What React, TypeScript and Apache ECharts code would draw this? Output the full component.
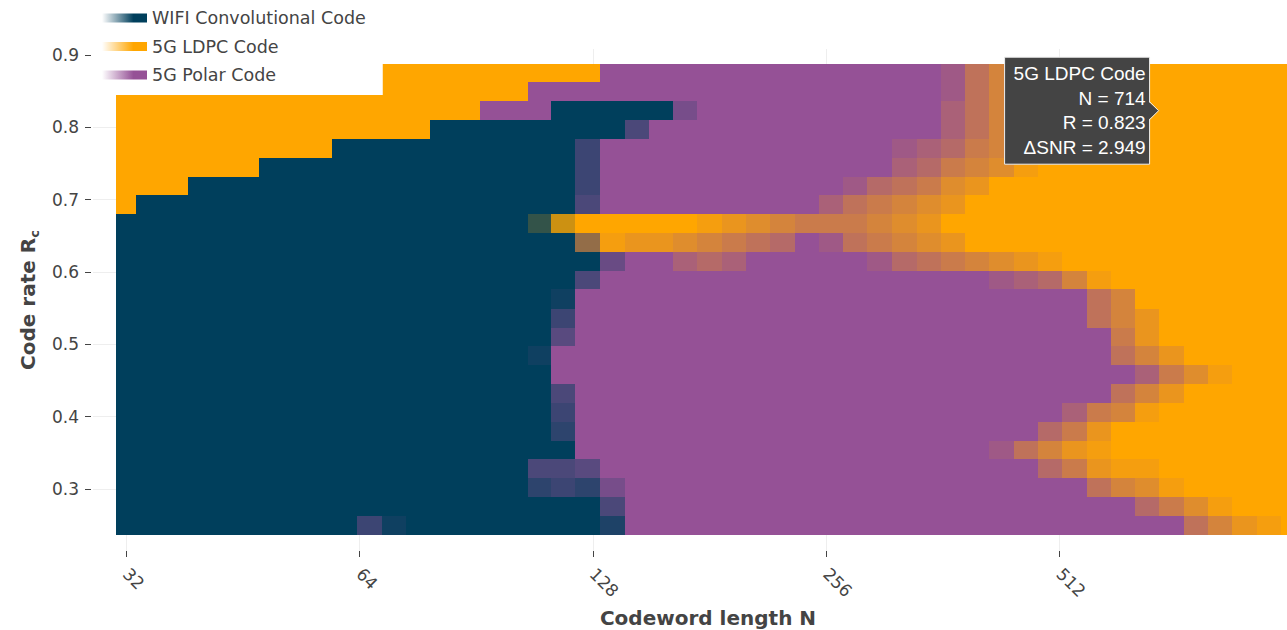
import React, { useEffect, useRef } from 'react';
import * as echarts from 'echarts';

// ---------------- data ----------------
const codeNames = ['WIFI Convolutional Code', '5G LDPC Code', '5G Polar Code'];
const codeColors = ['#003f5c', '#ffa600', '#955196'];

// codeword lengths N (columns)
const codewordLengths = [
  32, 34, 37, 40, 43, 46, 49, 53, 57, 61, 66, 71, 76, 82, 88, 95, 102, 109, 117, 126,
  136, 146, 157, 168, 181, 195, 209, 225, 242, 260, 279, 300, 323, 347, 373, 401, 431, 463, 498, 535,
  575, 618, 664, 714, 767, 825, 887, 953, 1024,
];

// code rates R (rows, bottom to top)
const codeRates = [
  0.25, 0.276, 0.302, 0.328, 0.354, 0.38, 0.406, 0.432, 0.458, 0.484, 0.51, 0.536, 0.563,
  0.589, 0.615, 0.641, 0.667, 0.693, 0.719, 0.745, 0.771, 0.797, 0.823, 0.849, 0.875,
];

const xTickValues = [32, 64, 128, 256, 512];
const yTickValues = [0.3, 0.4, 0.5, 0.6, 0.7, 0.8, 0.9];

// share of each cell won by a code, in tenths (T = 10), rows from R = 0.875 (top) down to R = 0.25
// columns follow codewordLengths; Polar share = 10 - WIFI - LDPC
const wifiShareRows = [
  '0000000000 0000000000 0000000000 0000000000 000000000',
  '0000000000 0000000000 0000000000 0000000000 000000000',
  '0000000000 00000000TT TTT2000000 0000000000 000000000',
  '0000000000 000TTTTTTT T500000000 0000000000 000000000',
  '000000000T TTTTTTTTT6 0000000000 0000000000 000000000',
  '000000TTTT TTTTTTTTT6 0000000000 0000000000 000000000',
  '000TTTTTTT TTTTTTTTT6 0000000000 0000000000 000000000',
  '0TTTTTTTTT TTTTTTTTT5 0000000000 0000000000 000000000',
  'TTTTTTTTTT TTTTTTT820 0000000000 0000000000 000000000',
  'TTTTTTTTTT TTTTTTTTT3 0000000000 0000000000 000000000',
  'TTTTTTTTTT TTTTTTTTTT 3000000000 0000000000 000000000',
  'TTTTTTTTTT TTTTTTTTT5 0000000000 0000000000 000000000',
  'TTTTTTTTTT TTTTTTTT90 0000000000 0000000000 000000000',
  'TTTTTTTTTT TTTTTTTT60 0000000000 0000000000 000000000',
  'TTTTTTTTTT TTTTTTTT40 0000000000 0000000000 000000000',
  'TTTTTTTTTT TTTTTTT900 0000000000 0000000000 000000000',
  'TTTTTTTTTT TTTTTTTT00 0000000000 0000000000 000000000',
  'TTTTTTTTTT TTTTTTTT50 0000000000 0000000000 000000000',
  'TTTTTTTTTT TTTTTTTT60 0000000000 0000000000 000000000',
  'TTTTTTTTTT TTTTTTTT70 0000000000 0000000000 000000000',
  'TTTTTTTTTT TTTTTTTTT0 0000000000 0000000000 000000000',
  'TTTTTTTTTT TTTTTTT554 0000000000 0000000000 000000000',
  'TTTTTTTTTT TTTTTTT767 2000000000 0000000000 000000000',
  'TTTTTTTTTT TTTTTTTTTT 5000000000 0000000000 000000000',
  'TTTTTTTTTT 69TTTTTTTT 8000000000 0000000000 000000000',
];

const ldpcShareRows = [
  'TTTTTTTTTT TTTTTTTTTT 0000000000 000014689T TTTTTTTTT',
  'TTTTTTTTTT TTTTTTT000 0000000000 000014689T TTTTTTTTT',
  'TTTTTTTTTT TTTTT00000 0000000000 000024689T TTTTTTTTT',
  'TTTTTTTTTT TTT0000000 0000000000 000024689T TTTTTTTTT',
  'TTTTTTTTT0 0000000000 0000000000 001235689T TTTTTTTTT',
  'TTTTTT0000 0000000000 0000000000 00235679TT TTTTTTTTT',
  'TTT0000000 0000000000 0000000000 134578TTTT TTTTTTTTT',
  'T000000000 0000000000 0000000002 45678TTTTT TTTTTTTTT',
  '0000000000 000000028T TTTT987655 5678TTTTTT TTTTTTTTT',
  '0000000000 0000000004 9887654301 45678TTTTT TTTTTTTTT',
  '0000000000 0000000000 0002320000 013456789T TTTTTTTTT',
  '0000000000 0000000000 0000000000 0000001236 9TTTTTTTT',
  '0000000000 0000000000 0000000000 0000000000 46TTTTTTT',
  '0000000000 0000000000 0000000000 0000000000 468TTTTTT',
  '0000000000 0000000000 0000000000 0000000000 058TTTTTT',
  '0000000000 0000000000 0000000000 0000000000 0468TTTTT',
  '0000000000 0000000000 0000000000 0000000000 002579TTT',
  '0000000000 0000000000 0000000000 0000000000 0468TTTTT',
  '0000000000 0000000000 0000000000 0000000002 569TTTTTT',
  '0000000000 0000000000 0000000000 0000000035 8TTTTTTTT',
  '0000000000 0000000000 0000000000 0000001468 9TTTTTTTT',
  '0000000000 0000000000 0000000000 0000000035 899TTTTTT',
  '0000000000 0000000000 0000000000 0000000000 4679TTTTT',
  '0000000000 0000000000 0000000000 0000000000 003579TTT',
  '0000000000 0000000000 0000000000 0000000000 00004689T',
];

// hovered point shown in the tooltip
const hoverPoint = { code: '5G LDPC Code', n: 714, r: 0.823, dSnr: 2.949 };

// ---------------- layout / style ----------------
const FONT = '"DejaVu Sans", Verdana, sans-serif';
const TIP_FONT = '"Liberation Sans", Arial, sans-serif';
const TEXT = '#444';
const X_MIN = 4.8586;
const X_MAX = 10.1285;
const Y_MIN = 0.21425;
const Y_MAX = 0.9083;

function cellEdges(vals: number[]): number[] {
  const n = vals.length;
  const e: number[] = [vals[0] - (vals[1] - vals[0]) / 2];
  for (let i = 1; i < n; i++) e.push((vals[i - 1] + vals[i]) / 2);
  e.push(vals[n - 1] + (vals[n - 1] - vals[n - 2]) / 2);
  return e;
}

function parseShares(rows: string[]): number[][] {
  const n = rows.length;
  const out: number[][] = [];
  for (let r = 0; r < n; r++) {
    const s = rows[r].replace(/\s+/g, '');
    const j = n - 1 - r;
    out[j] = codewordLengths.map((_, k) => {
      const c = s[k] ?? '0';
      return c === 'T' ? 10 : Number(c) || 0;
    });
  }
  return out;
}

function rgba(hex: string, a: number): string {
  const v = parseInt(hex.slice(1), 16);
  return `rgba(${(v >> 16) & 255},${(v >> 8) & 255},${v & 255},${a})`;
}

function buildOption(): any {
  const xs = codewordLengths.map((n) => Math.log2(n));
  const xEdges = cellEdges(xs);
  const yEdges = cellEdges(codeRates);
  const wifi = parseShares(wifiShareRows);
  const ldpc = parseShares(ldpcShareRows);

  const layers: number[][][] = [[], [], []]; // indexed like codeNames
  for (let j = 0; j < codeRates.length; j++) {
    for (let k = 0; k < codewordLengths.length; k++) {
      const w = wifi[j][k];
      const l = ldpc[j][k];
      const p = Math.max(0, 10 - w - l);
      if (w > 0) layers[0].push([xs[k], codeRates[j], 1, k, j]);
      if (p > 0) layers[2].push([xs[k], codeRates[j], p / (w + p), k, j]);
      if (l > 0) layers[1].push([xs[k], codeRates[j], l / 10, k, j]);
    }
  }

  const drawOrder = [0, 2, 1];
  const series = drawOrder.map((ci) => ({
    type: 'custom',
    name: codeNames[ci],
    clip: true,
    silent: true,
    itemStyle: { color: codeColors[ci] },
    encode: { x: 0, y: 1 },
    data: layers[ci],
    renderItem: (_params: any, api: any) => {
      const k = api.value(3);
      const j = api.value(4);
      const a = api.coord([xEdges[k], yEdges[j + 1]]);
      const b = api.coord([xEdges[k + 1], yEdges[j]]);
      const x0 = Math.round(a[0]);
      const y0 = Math.round(a[1]);
      const x1 = Math.round(b[0]);
      const y1 = Math.round(b[1]);
      return {
        type: 'rect',
        shape: { x: x0, y: y0, width: x1 - x0, height: y1 - y0 },
        style: { fill: codeColors[ci], opacity: api.value(2) },
      };
    },
  }));

  const xTicks = xTickValues.map((v) => Math.log2(v));
  // faint grid lines; the top one (0.9) is not drawn in the reference
  const yGridColors = yTickValues.map((v) => (v >= 0.9 ? 'rgba(0,0,0,0)' : '#eeeeee'));

  return {
    animation: false,
    backgroundColor: '#ffffff',
    grid: { left: 93, right: 0, top: 49, bottom: 79, containLabel: false, outerBoundsMode: 'none' },
    legend: {
      orient: 'vertical',
      left: 98,
      top: 8,
      padding: [1, 17, 11, 4],
      backgroundColor: '#ffffff',
      itemWidth: 45,
      itemHeight: 9,
      itemGap: 10.5,
      selectedMode: false,
      textStyle: { fontFamily: FONT, fontSize: 17.5, color: TEXT },
      data: codeNames.map((name, i) => ({
        name,
        icon: 'rect',
        itemStyle: {
          color: new echarts.graphic.LinearGradient(0, 0, 1, 0, [
            { offset: 0, color: rgba(codeColors[i], 0) },
            { offset: 0.7, color: rgba(codeColors[i], 1) },
            { offset: 1, color: rgba(codeColors[i], 1) },
          ]),
        },
      })),
    },
    xAxis: {
      type: 'value',
      min: X_MIN,
      max: X_MAX,
      axisLine: { show: false },
      axisTick: { show: true, length: 6, lineStyle: { color: TEXT }, customValues: xTicks },
      axisLabel: {
        customValues: xTicks,
        rotate: -45,
        margin: 20,
        formatter: (v: number) => String(Math.round(Math.pow(2, v))),
        fontFamily: FONT,
        fontSize: 17,
        color: TEXT,
      },
      splitLine: { show: true, lineStyle: { color: '#eeeeee', width: 1 } },
      name: 'Codeword length N',
      nameLocation: 'middle',
      nameGap: 57,
      nameTextStyle: { fontFamily: FONT, fontWeight: 'bold', fontSize: 20, color: TEXT, verticalAlign: 'top' },
    },
    yAxis: {
      type: 'value',
      min: Y_MIN,
      max: Y_MAX,
      offset: 2,
      axisLine: { show: false },
      axisTick: { show: true, length: 6, lineStyle: { color: TEXT }, customValues: yTickValues },
      axisLabel: {
        customValues: yTickValues,
        margin: 12,
        formatter: (v: number) => v.toFixed(1),
        fontFamily: FONT,
        fontSize: 17,
        color: TEXT,
      },
      splitLine: { show: true, lineStyle: { color: yGridColors, width: 1 } },
      name: '{a|Code rate R}{b|c}',
      nameLocation: 'middle',
      nameRotate: 90,
      nameGap: 50,
      nameTextStyle: {
        rich: {
          a: { fontFamily: FONT, fontWeight: 'bold', fontSize: 20, color: TEXT, lineHeight: 26, verticalAlign: 'middle' },
          b: { fontFamily: FONT, fontWeight: 'bold', fontSize: 13, color: TEXT, lineHeight: 14, verticalAlign: 'bottom' },
        },
      },
    },
    series,
  };
}

function buildTooltip(px: number, py: number): any[] {
  const tipX = px - 13;
  const boxRight = tipX - 9;
  const boxW = 145;
  const boxH = 107;
  const lines = [
    hoverPoint.code,
    `N = ${hoverPoint.n}`,
    `R = ${hoverPoint.r.toFixed(3)}`,
    `\u0394SNR = ${hoverPoint.dSnr.toFixed(3)}`,
  ];
  const els: any[] = [
    {
      type: 'rect',
      z: 100,
      shape: { x: boxRight - boxW, y: py - boxH / 2, width: boxW, height: boxH },
      style: { fill: '#444444', stroke: '#eeeeee', lineWidth: 1 },
    },
    {
      type: 'polygon',
      z: 101,
      shape: { points: [[boxRight - 1, py - 9], [tipX, py], [boxRight - 1, py + 9]] },
      style: { fill: '#444444' },
    },
    {
      type: 'polyline',
      z: 102,
      shape: { points: [[boxRight, py - 9], [tipX, py], [boxRight, py + 9]] },
      style: { stroke: '#eeeeee', lineWidth: 1, fill: 'none' },
    },
  ];
  lines.forEach((t, i) => {
    els.push({
      type: 'text',
      z: 103,
      x: boxRight - 4,
      y: py - 36.75 + 24.5 * i,
      style: {
        text: t,
        align: 'right',
        verticalAlign: 'middle',
        fill: '#ffffff',
        fontSize: 19,
        fontFamily: TIP_FONT,
      },
    });
  });
  return els;
}

export default function App() {
  const ref = useRef<HTMLDivElement>(null);
  useEffect(() => {
    const el = ref.current;
    if (!el) return;
    const chart = echarts.init(el, undefined, { renderer: 'svg' });
    chart.setOption(buildOption());
    const pt = chart.convertToPixel({ xAxisIndex: 0, yAxisIndex: 0 }, [Math.log2(hoverPoint.n), hoverPoint.r]) as any;
    if (pt && isFinite(pt[0]) && isFinite(pt[1])) {
      chart.setOption({ graphic: { elements: buildTooltip(pt[0], pt[1]) } });
    }
    return () => chart.dispose();
  }, []);
  return (
    <div style={{ position: 'absolute', left: 0, top: 0, width: 1287, height: 630, overflow: 'hidden', background: '#fff' }}>
      <div ref={ref} style={{ width: 1323, height: 630 }} />
    </div>
  );
}
